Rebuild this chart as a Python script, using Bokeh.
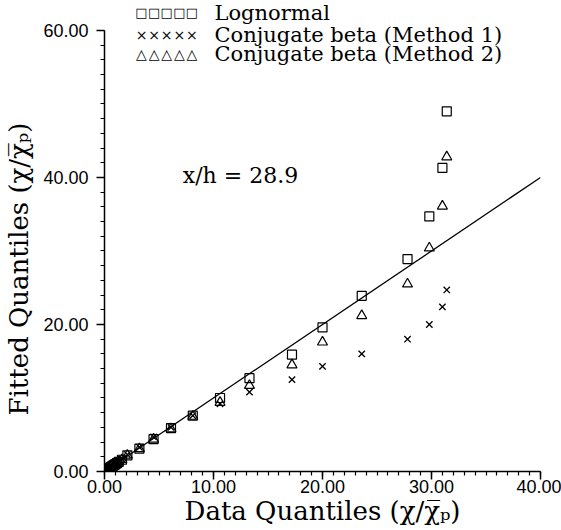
import math
from bokeh.plotting import figure
from bokeh.models import Range1d, SingleIntervalTicker, PrintfTickFormatter, Label
from bokeh.embed import file_html
from bokeh.resources import INLINE

# ---- data ----
data_q = [0.05, 0.1, 0.15, 0.2, 0.25, 0.3, 0.4, 0.5, 0.6, 0.7, 0.8, 0.9, 1.0, 1.15, 1.3,
          1.6, 2.1, 3.2, 4.5, 6.1, 8.1, 10.6, 13.3, 17.2, 20.0, 23.6, 27.8, 29.8, 31.0, 31.4]
lognormal = [0.05, 0.1, 0.15, 0.2, 0.25, 0.3, 0.4, 0.5, 0.6, 0.7, 0.8, 0.9, 1.0, 1.15, 1.3,
             1.6, 2.2, 3.1, 4.4, 5.9, 7.6, 10.0, 12.7, 15.9, 19.6, 23.9, 28.9, 34.7, 41.3, 49.0]
beta_m1 = [0.06, 0.11, 0.17, 0.22, 0.28, 0.33, 0.43, 0.53, 0.64, 0.74, 0.84, 0.95, 1.05, 1.2, 1.35,
           1.7, 2.3, 3.3, 4.7, 6.0, 7.6, 9.2, 10.8, 12.5, 14.3, 16.0, 18.0, 20.0, 22.4, 24.7]
beta_m2 = [0.05, 0.1, 0.15, 0.2, 0.25, 0.3, 0.4, 0.5, 0.6, 0.7, 0.8, 0.9, 1.0, 1.15, 1.3,
           1.6, 2.2, 3.1, 4.4, 5.8, 7.5, 9.4, 11.7, 14.5, 17.6, 21.2, 25.5, 30.4, 36.1, 42.8]
ref_x = [0.0, 40.0]
ref_y = [0.0, 40.0]
legend_labels = ["Lognormal", "Conjugate beta (Method 1)", "Conjugate beta (Method 2)"]
legend_symbols = ["\u25a1", "\u00d7", "\u25b3"]
annotation = "x/h = 28.9"
x_title = "Data Quantiles (\u03c7/\u03c7\u0305\u209a)"
y_title = "Fitted Quantiles (\u03c7/\u03c7\u0305\u209a)"

SERIF = "DejaVu Serif"
SANS = "Liberation Sans"

# frame spans the canvas top (room for the legend); y axis is bounded to 0..60
p = figure(width=561, height=530, x_range=Range1d(0, 40), y_range=Range1d(0, 64.08),
           output_backend="svg", toolbar_location=None,
           min_border_left=104, min_border_right=21, min_border_top=0, min_border_bottom=59)
p.outline_line_color = None
p.xgrid.visible = False
p.ygrid.visible = False
p.background_fill_color = "white"
p.border_fill_color = "white"

p.xaxis.ticker = SingleIntervalTicker(interval=10, num_minor_ticks=10)
p.yaxis.ticker = SingleIntervalTicker(interval=20, num_minor_ticks=10)
p.yaxis.bounds = (0, 60)
for ax in (p.xaxis, p.yaxis):
    ax.formatter = PrintfTickFormatter(format="%.2f")
    ax.major_label_text_font = SANS
    ax.major_label_text_font_size = "18px"
    ax.major_label_text_color = "black"
    ax.axis_line_color = "black"
    ax.axis_line_width = 1.5
    ax.major_tick_line_color = "black"
    ax.major_tick_line_width = 1.5
    ax.minor_tick_line_color = "black"
    ax.minor_tick_line_width = 1.2
    ax.major_tick_in = 0
    ax.major_tick_out = 8
    ax.minor_tick_in = 0
    ax.minor_tick_out = 4
    ax.axis_label_text_font = SERIF
    ax.axis_label_text_font_style = "normal"
    ax.axis_label_text_color = "black"
    ax.axis_label_text_font_size = "26px"
p.xaxis.major_label_standoff = 0
p.yaxis.major_label_standoff = 8
p.xaxis.axis_label = x_title
p.xaxis.axis_label_standoff = 0
# trailing no-break spaces push the rotated title down, as in the reference
p.yaxis.axis_label = y_title + "\u00a0" * 8
p.yaxis.axis_label_standoff = 6

# reference 1:1 line
p.line(ref_x, ref_y, line_color="black", line_width=1.3)

# series
p.scatter(data_q, lognormal, marker="square", size=9, fill_color=None, line_color="black", line_width=1.2)
p.scatter(data_q, beta_m1, marker="x", size=9, line_color="black", line_width=1.3)
p.scatter(data_q, beta_m2, marker="triangle", size=10, fill_color=None, line_color="black", line_width=1.2)

# annotation text (screen units relative to frame: frame left=104, bottom=471 in canvas px)
p.add_layout(Label(x=136, y=296, x_units="screen", y_units="screen", text=annotation,
                   text_font=SERIF, text_font_size="22px", text_baseline="middle",
                   text_align="center", text_color="black"))

# legend (top of the frame, above the y axis end)
row_y = [459, 437, 418]
sym_sizes = ["13px", "14px", "14px"]
for lab, sym, ss, yy in zip(legend_labels, legend_symbols, sym_sizes, row_y):
    for k in range(5):
        p.add_layout(Label(x=37 + k * 12.6, y=yy, x_units="screen", y_units="screen", text=sym,
                           text_font="DejaVu Sans", text_font_size=ss, text_baseline="middle",
                           text_align="center", text_color="black"))
    p.add_layout(Label(x=110, y=yy, x_units="screen", y_units="screen", text=lab,
                       text_font=SERIF, text_font_size="21px", text_baseline="middle",
                       text_align="left", text_color="black"))

open("out.html", "w").write(file_html(p, INLINE))
